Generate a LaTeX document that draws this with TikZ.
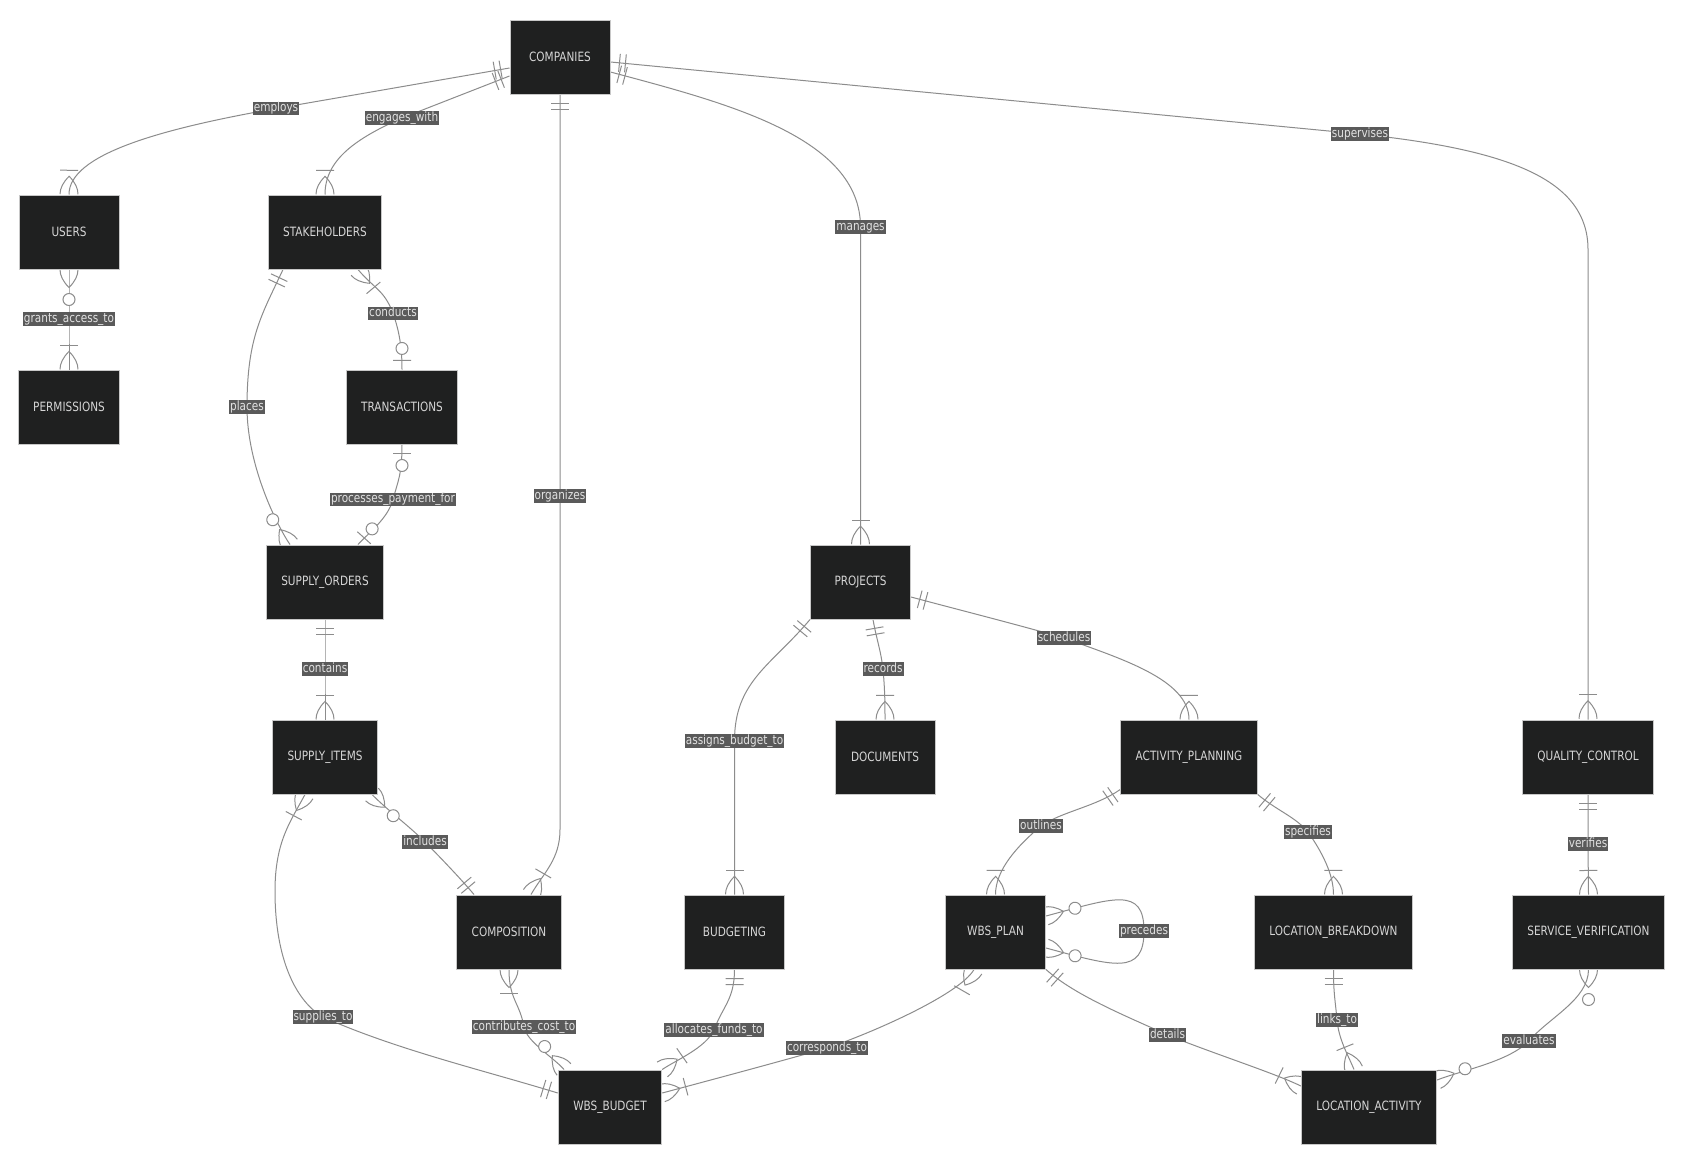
\documentclass[tikz,border=0pt]{standalone}
\usepackage{fontspec}
\setsansfont{DejaVu Sans}[FakeStretch=0.82]
\usetikzlibrary{decorations.markings, backgrounds}
\definecolor{entfill}{HTML}{1F2020}
\definecolor{entline}{HTML}{C8C8C8}
\definecolor{enttext}{HTML}{D6D6D6}
\definecolor{relline}{HTML}{8C8C8C}
\definecolor{lblfill}{HTML}{5A5A5A}
\definecolor{lbltext}{HTML}{E2E2E2}

% crow's foot ends, drawn with x pointing away from the entity
\newcommand{\mkone}{\draw[mk] (9pt,-9pt) -- (9pt,9pt) (15pt,-9pt) -- (15pt,9pt);}
\newcommand{\mkzeroone}{\draw[mk] (9pt,-9pt) -- (9pt,9pt);
    \draw[mk, fill=white] (21pt,0pt) circle (6pt);}
\newcommand{\mkmany}{\draw[mk] (0pt,9pt) .. controls (6pt,9pt) and (12pt,6pt) .. (18pt,0pt)
    .. controls (12pt,-6pt) and (6pt,-9pt) .. (0pt,-9pt);
    \draw[mk] (24pt,-9pt) -- (24pt,9pt);}
\newcommand{\mkzeromany}{\draw[mk] (0pt,9pt) .. controls (6pt,9pt) and (12pt,6pt) .. (18pt,0pt)
    .. controls (12pt,-6pt) and (6pt,-9pt) .. (0pt,-9pt);
    \draw[mk, fill=white] (30pt,0pt) circle (6pt);}

\begin{document}
\begin{tikzpicture}[
    x=1pt, y=1pt,
    every node/.style={font=\sffamily\fontsize{12.8}{15}\selectfont},
    ent/.style={
        rectangle, draw=entline, fill=entfill, text=enttext, line width=1pt,
        minimum width=100pt, minimum height=74pt, inner xsep=15pt,
    },
    lbl/.style={fill=lblfill, text=lbltext, inner xsep=1pt, inner ysep=0.5pt,
        text height=9.5pt, text depth=3pt},
    rel/.style={draw=relline, line width=1pt},
    mk/.style={draw=relline, line width=1pt},
    src/.style={postaction={decorate, decoration={markings,
        mark=at position 0 with {\csname mk#1\endcsname}}}},
    dst/.style={postaction={decorate, decoration={markings,
        mark=at position 0.9995 with {\pgftransformrotate{180}\csname mk#1\endcsname}}}},
]
\path[use as bounding box] (0,0) rectangle (1684,-1165);

% ============================================================ the entities
\foreach \n/\x/\y/\t in {
    companies/560/-57/COMPANIES,
    users/69/-232/USERS,
    stakeholders/325/-232/STAKEHOLDERS,
    permissions/69/-407/PERMISSIONS,
    transactions/402/-407/TRANSACTIONS,
    supplyorders/325/-582/SUPPLY\_ORDERS,
    projects/860.5/-582/PROJECTS,
    supplyitems/325/-757/SUPPLY\_ITEMS,
    documents/885/-757/DOCUMENTS,
    activityplanning/1189/-757/ACTIVITY\_PLANNING,
    qualitycontrol/1588/-757/QUALITY\_CONTROL,
    composition/509/-932/COMPOSITION,
    budgeting/734.5/-932/BUDGETING,
    wbsplan/995.5/-932/WBS\_PLAN,
    locationbreakdown/1333.5/-932/LOCATION\_BREAKDOWN,
    serviceverification/1588.5/-932/SERVICE\_VERIFICATION,
    wbsbudget/610/-1107/WBS\_BUDGET,
    locationactivity/1369/-1107/LOCATION\_ACTIVITY}{
    \node[ent] (\n) at (\x, \y) {\t};
}

% ============================================================ the relation names
\foreach \n/\x/\y/\t in {
    employsL/276/-108.5/employs,
    engL/402/-118/engages\_with,
    orgL/560/-496/organizes,
    manL/860.5/-227/manages,
    supL/1360/-134/supervises,
    grantsL/69/-319/grants\_access\_to,
    placesL/247/-407/places,
    condL/393/-313.5/conducts,
    payL/393/-499.5/processes\_payment\_for,
    contL/325/-669/contains,
    incL/425/-842/includes,
    suppL/323/-1017/supplies\_to,
    costL/524/-1027/contributes\_cost\_to,
    fundsL/714/-1030/allocates\_funds\_to,
    corrL/827/-1048/corresponds\_to,
    budL/734.5/-741/assigns\_budget\_to,
    recL/883/-669/records,
    schL/1064/-638/schedules,
    outL/1041/-826/outlines,
    specL/1308/-832/specifies,
    verL/1588/-844/verifies,
    precL/1144/-931/precedes,
    detL/1167.5/-1035/details,
    linkL/1337/-1020/links\_to,
    evalL/1529/-1041/evaluates}{
    \node[lbl] (\n) at (\x, \y) {\t};
}

% ============================================================ the relations, behind the boxes
\begin{scope}[on background layer]
\fill[white] (0,0) rectangle (1684,-1165);

% companies and what hangs from it
\draw[rel, src=one, dst=many] ([yshift=-11pt]companies.west) -- (employsL.center)
    .. controls +(190:118) and +(90:40) .. (users.north);
\draw[rel, src=one, dst=many] ([yshift=-19pt]companies.west) -- (engL.center)
    .. controls +(204:50) and +(90:35) .. (stakeholders.north);
\draw[rel, src=one, dst=many] (companies.south) -- (orgL.center)
    -- ([xshift=51pt, yshift=65pt]composition.north)
    .. controls +(-90:30) and +(60:25) .. ([xshift=22pt]composition.north);
\draw[rel, src=one, dst=many] ([yshift=-15pt]companies.east)
    .. controls +(-15:120) and +(90:90) .. (manL.center) -- (projects.north);
\draw[rel, src=one, dst=many] ([yshift=-5pt]companies.east) -- (supL.center)
    .. controls +(-6:150) and +(90:70) .. ([yshift=470pt]qualitycontrol.north)
    -- (qualitycontrol.north);

% users, stakeholders, orders
\draw[rel, src=zeromany, dst=many] (users.south) -- (grantsL.center) -- (permissions.north);
\draw[rel, src=one, dst=zeromany] ([xshift=-42pt]stakeholders.south)
    .. controls +(-115:50) and +(90:70) .. (placesL.center)
    .. controls +(-90:60) and +(125:20) .. ([xshift=-35pt]supplyorders.north);
\draw[rel, src=many, dst=zeroone] ([xshift=33pt]stakeholders.south)
    .. controls +(-50:25) and +(110:25) .. (condL.center)
    .. controls +(-70:20) and +(90:20) .. (transactions.north);
\draw[rel, src=zeroone, dst=zeroone] (transactions.south)
    .. controls +(-90:30) and +(75:20) .. (payL.center)
    .. controls +(-105:20) and +(48:15) .. ([xshift=33pt]supplyorders.north);
\draw[rel, src=one, dst=many] (supplyorders.south) -- (contL.center) -- (supplyitems.north);

% supply items, composition, budget
\draw[rel, src=zeromany, dst=one] ([xshift=47pt]supplyitems.south)
    .. controls +(-45:25) and +(135:25) .. (incL.center)
    .. controls +(-45:20) and +(130:20) .. ([xshift=-35pt]composition.north);
\draw[rel, src=many, dst=one] ([xshift=-20pt]supplyitems.south)
    .. controls +(-118:30) and +(90:50) .. ([xshift=-50pt, yshift=-96.5pt]supplyitems.south)
    .. controls +(-90:70) and +(150:30) .. (suppL.center)
    .. controls +(-24:80) and +(163:80) .. ([yshift=14pt]wbsbudget.west);
\draw[rel, src=many, dst=zeromany] (composition.south)
    .. controls +(-90:30) and +(100:25) .. (costL.center)
    .. controls +(-80:15) and +(130:15) .. ([xshift=-46pt]wbsbudget.north);
\draw[rel, src=one, dst=many] (budgeting.south)
    .. controls +(-90:30) and +(70:25) .. (fundsL.center)
    .. controls +(-115:20) and +(35:15) .. (wbsbudget.north east);
\draw[rel, src=many, dst=many] ([xshift=-21.5pt]wbsplan.south)
    .. controls +(-120:30) and +(18:40) .. (corrL.center)
    .. controls +(196:50) and +(15:50) .. ([yshift=14pt]wbsbudget.east);

% projects and planning
\draw[rel, src=one, dst=many] (projects.south west)
    .. controls +(-130:60) and +(90:60) .. (budL.center) -- (budgeting.north);
\draw[rel, src=one, dst=many] ([xshift=12.5pt]projects.south)
    .. controls +(-80:20) and +(97:20) .. (recL.center)
    .. controls +(-85:20) and +(90:20) .. (documents.north);
\draw[rel, src=one, dst=many] ([yshift=-15pt]projects.east)
    .. controls +(-15:50) and +(164:50) .. (schL.center)
    .. controls +(-20:60) and +(90:40) .. (activityplanning.north);
\draw[rel, src=one, dst=many] ([yshift=5pt]activityplanning.south west)
    .. controls +(-145:30) and +(35:25) .. (outL.center)
    .. controls +(-140:30) and +(90:25) .. (wbsplan.north);
\draw[rel, src=one, dst=many] (activityplanning.south east)
    .. controls +(-40:25) and +(130:20) .. (specL.center)
    .. controls +(-55:25) and +(90:20) .. (locationbreakdown.north);
\draw[rel, src=one, dst=many] (qualitycontrol.south) -- (verL.center) -- (serviceverification.north);

% the wbs plan and the locations
\draw[rel, src=zeromany, dst=zeromany] ([yshift=16pt]wbsplan.east)
    .. controls +(15:70) and +(90:45) .. (precL.center)
    .. controls +(-90:45) and +(-15:70) .. ([yshift=-16pt]wbsplan.east);
\draw[rel, src=one, dst=many] (wbsplan.south east)
    .. controls +(-42:40) and +(155:40) .. (detL.center)
    .. controls +(-22:50) and +(154:30) .. ([yshift=21pt]locationactivity.west);
\draw[rel, src=one, dst=many] (locationbreakdown.south)
    .. controls +(-90:25) and +(95:20) .. (linkL.center)
    .. controls +(-85:20) and +(112:15) .. ([xshift=-15pt]locationactivity.north);
\draw[rel, src=zeromany, dst=zeromany] (serviceverification.south)
    .. controls +(-90:30) and +(50:30) .. (evalL.center)
    .. controls +(-135:30) and +(22:25) .. ([yshift=27pt]locationactivity.east);
\end{scope}

\end{tikzpicture}
\end{document}
